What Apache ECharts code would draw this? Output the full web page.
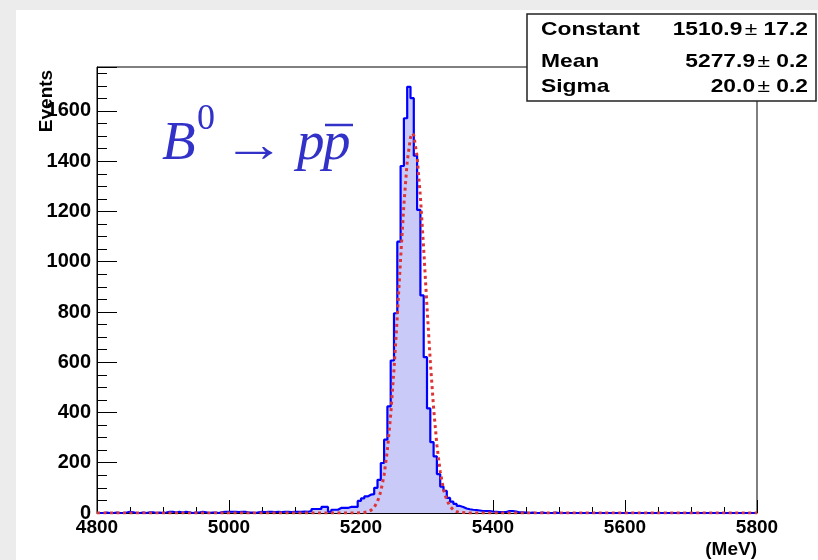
<!DOCTYPE html>
<html>
<head>
<meta charset="utf-8">
<script src="https://cdn.jsdelivr.net/npm/echarts@6/dist/echarts.min.js"></script>
<style>
html,body{margin:0;padding:0;background:#ececec;}
#paper{position:absolute;left:16px;top:10px;width:802px;height:550px;background:#ffffff;}
#chart{position:absolute;left:0;top:0;width:818px;height:560px;}
</style>
</head>
<body>
<div id="paper"></div>
<div id="chart"></div>
<script>
// ---- data ----
const binStart = 4800;      // MeV, lower edge of first bin
const binWidth = 5;         // MeV
const counts = [
  0,0,2,0,0,2,0,0,2,5,  3,0,0,2,0,3,3,0,2,0,
  2,5,5,2,5,2,5,3,0,2,  2,5,3,0,2,2,0,4,5,5,
  5,5,4,5,5,2,2,0,3,5,  4,5,5,4,5,4,5,5,4,5,
  5,5,6,5,8,16,16,16,24,24,  5,13,13,20,20,20,24,24,24,48,
  58,66,73,75,100,132,199,292,424,607,  795,1080,1381,1571,1696,1651,1422,1206,866,620,
  416,282,225,155,105,88,60,45,36,28,  24,18,15,13,12,10,8,8,8,6,
  5,4,4,4,8,8,6,3,3,2,  0,2,0,0,2,0,0,0,2,0,
  0,0,0,0,0,0,0,0,0,0,  0,0,0,0,0,0,0,0,0,0,
  0,0,0,0,0,0,0,0,0,0,  0,0,0,0,0,0,0,0,0,0,
  0,0,0,0,0,0,0,0,0,0,  0,0,0,0,0,0,0,0,0,0
];
// Gaussian fit curve (red dotted)
const fitX = [4800,5180,5190,5200,5205,5210,5215,5220,5225,5230,5235,5240,5245,5250,5255,5260,5265,5270,5275,5278,5280,5285,5290,5295,5300,5305,5310,5315,5320,5325,5330,5335,5340,5345,5350,5360,5370,5800];
const fitY = [0,0,0.1,0.8,2.0,4.7,10.8,22.9,45.8,85.8,151,251,391,571,784,1013,1227,1398,1495,1511,1503,1419,1258,1049,820,603,417,270,165,94,51,26,12,5.4,2.3,0.3,0,0];
const xMin = 4800, xMax = 5800, xStep = 200;
const yMin = 0, yMax = 1775, yStep = 200;
const statNames = ['Constant','Mean','Sigma'];
const statValues = ['1510.9','5277.9','20.0'];
const statErrors = ['17.2','0.2','0.2'];

// ---- build ----
const histData = counts.map((c,i)=>[binStart + i*binWidth, c]);
histData.push([binStart + counts.length*binWidth, counts[counts.length-1]]);
const fitData = fitX.map((x,i)=>[x, fitY[i]]);

const FONT = 'Liberation Sans, Arial, Helvetica, sans-serif';
const SERIF = 'Liberation Serif, Times New Roman, serif';
const BLUE_TXT = '#3232c8';

const chart = echarts.init(document.getElementById('chart'), null, {renderer:'canvas'});

const statsGraphics = [];
const rowY = [30, 61.5, 87];
statNames.forEach((n,i)=>{
  statsGraphics.push({type:'text', z:101, x:541, y:rowY[i], scaleX:1.2, style:{text:n, font:'bold 19px '+FONT, fill:'#000', textAlign:'left', textVerticalAlign:'middle'}});
  statsGraphics.push({type:'text', z:101, x:808, y:rowY[i], scaleX:1.2, style:{
    text:'{b|'+statValues[i]+'}{p|\u00b1}{b| '+statErrors[i]+'}',
    textAlign:'right', textVerticalAlign:'middle',
    rich:{b:{font:'bold 19px '+FONT, fill:'#000'}, p:{font:'19px '+FONT, fill:'#000', padding:[0,0,0,2]}}
  }});
});

chart.setOption({
  animation:false,
  backgroundColor:'transparent',
  grid:{left:97, right:61, top:67, bottom:47, show:true, borderColor:'#000', borderWidth:1, backgroundColor:'transparent'},
  xAxis:[{
    type:'value', min:xMin, max:xMax, interval:xStep, position:'bottom',
    axisLine:{show:true, onZero:false, lineStyle:{color:'#000', width:1}},
    axisTick:{show:true, inside:true, length:13, lineStyle:{color:'#000', width:1}},
    minorTick:{show:true, splitNumber:4, length:6, lineStyle:{color:'#000', width:1}},
    axisLabel:{color:'#000', fontFamily:FONT, fontWeight:'bold', fontSize:19, margin:5,
      formatter:function(v){return String(v);}},
    splitLine:{show:false}, minorSplitLine:{show:false}
  }],
  yAxis:[{
    type:'value', min:yMin, max:yMax, interval:yStep, position:'left',
    axisLine:{show:true, onZero:false, lineStyle:{color:'#000', width:1}},
    axisTick:{show:true, inside:true, length:20, lineStyle:{color:'#000', width:1}},
    axisLabel:{color:'#000', fontFamily:FONT, fontWeight:'bold', fontSize:20, margin:6,
      formatter:function(v){return (v % yStep === 0) ? String(v) : '';}},
    splitLine:{show:false}
  },{
    type:'value', min:yMin, max:yMax, interval:50, position:'left', alignTicks:false,
    axisLine:{show:false},
    axisTick:{show:true, inside:true, length:10, lineStyle:{color:'#000', width:1}},
    axisLabel:{show:false}, splitLine:{show:false}
  }],
  series:[{
    type:'line', step:'end', data:histData, symbol:'none', xAxisIndex:0, yAxisIndex:0,
    lineStyle:{color:'#0000ff', width:2.2},
    areaStyle:{color:'#cacaf8', opacity:1},
    z:2
  },{
    type:'line', data:fitData, symbol:'none', xAxisIndex:0, yAxisIndex:0,
    lineStyle:{color:'#de3434', width:3, type:[3,3.5]},
    z:3
  }],
  graphic:[
    {type:'text', x:47, y:101, rotation:Math.PI/2, z:50, style:{text:'Events', font:'bold 19px '+FONT, fill:'#000', textAlign:'center', textVerticalAlign:'middle'}},
    {type:'text', x:757, y:550, z:50, style:{text:'(MeV)', font:'bold 19px '+FONT, fill:'#000', textAlign:'right', textVerticalAlign:'middle'}},
    {type:'text', x:162, y:145, z:50, style:{text:'B', font:'italic 55px '+SERIF, fill:BLUE_TXT, textAlign:'left', textVerticalAlign:'middle'}},
    {type:'text', x:197, y:120, z:50, style:{text:'0', font:'36px '+SERIF, fill:BLUE_TXT, textAlign:'left', textVerticalAlign:'middle'}},
    {type:'text', x:254, y:148, z:50, scaleX:1.25, style:{text:'\u2192', font:'50px '+SERIF, fill:BLUE_TXT, textAlign:'center', textVerticalAlign:'middle'}},
    {type:'text', x:297, y:145, z:50, style:{text:'p', font:'italic 55px '+SERIF, fill:BLUE_TXT, textAlign:'left', textVerticalAlign:'middle'}},
    {type:'text', x:323, y:145, z:50, style:{text:'p', font:'italic 55px '+SERIF, fill:BLUE_TXT, textAlign:'left', textVerticalAlign:'middle'}},
    {type:'line', z:50, shape:{x1:325, y1:125, x2:353, y2:125}, style:{stroke:BLUE_TXT, lineWidth:2.5}},
    {type:'rect', z:100, shape:{x:527, y:14, width:289, height:87}, style:{fill:'#fff', stroke:'#222', lineWidth:1.5}}
  ].concat(statsGraphics)
});
</script>
</body>
</html>
